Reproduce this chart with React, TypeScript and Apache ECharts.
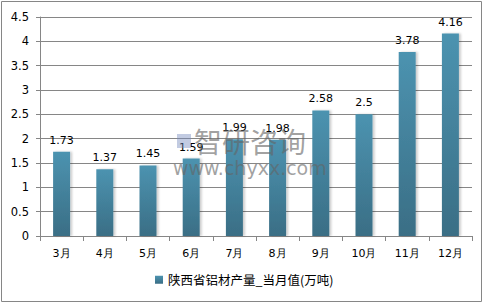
import React, { useEffect, useRef } from "react";
import * as echarts from "echarts";

const categories = ["3月", "4月", "5月", "6月", "7月", "8月", "9月", "10月", "11月", "12月"];
const values = [1.73, 1.37, 1.45, 1.59, 1.99, 1.98, 2.58, 2.5, 3.78, 4.16];
const seriesName = "陕西省铝材产量_当月值(万吨)";

export default function App() {
  const ref = useRef<HTMLDivElement>(null);
  useEffect(() => {
    document.body.style.margin = "0";
    const chart = echarts.init(ref.current!, null, { renderer: "svg" });
    const font = "DejaVu Sans, Verdana, sans-serif";
    chart.setOption({
      animation: false,
      backgroundColor: "#ffffff",
      grid: { left: 40, right: 13, top: 17, bottom: 71 },
      legend: {
        bottom: 16,
        left: 150,
        itemWidth: 8,
        itemHeight: 8,
        itemGap: 4,
        icon: "rect",
        textStyle: { fontSize: 12.5, color: "#000", fontFamily: "Noto Sans CJK SC" },
        data: [seriesName],
      },
      xAxis: {
        type: "category",
        data: categories,
        axisLine: { lineStyle: { color: "#868686" } },
        axisTick: { show: true, length: 5, lineStyle: { color: "#868686" } },
        axisLabel: { color: "#000", fontSize: 11, fontFamily: font, margin: 12 },
      },
      yAxis: {
        type: "value",
        min: 0,
        max: 4.5,
        interval: 0.5,
        axisLine: { show: true, lineStyle: { color: "#868686" } },
        axisTick: { show: true, length: 4, lineStyle: { color: "#868686" } },
        axisLabel: { color: "#000", fontSize: 11.5, fontFamily: font, margin: 11 },
        splitLine: { lineStyle: { color: "#868686" } },
      },
      series: [
        {
          name: seriesName,
          type: "bar",
          data: values,
          barWidth: 17,
          itemStyle: {
            color: new echarts.graphic.LinearGradient(0, 0, 0, 1, [
              { offset: 0, color: "#4c93b0" },
              { offset: 1, color: "#3a6e85" },
            ]),
            shadowColor: "rgba(0,0,0,0.2)",
            shadowOffsetX: 2,
            shadowBlur: 2,
          },
          label: {
            show: true,
            position: "top",
            distance: 6,
            color: "#000",
            fontSize: 11,
            fontFamily: font,
          },
        },
      ],
      graphic: [
        {
          type: "rect",
          shape: { x: 1.5, y: 1.5, width: 480, height: 300 },
          style: { fill: "none", stroke: "#868686", lineWidth: 1 },
          silent: true,
        },
        {
          type: "rect",
          shape: { x: 177, y: 134, width: 14, height: 14 },
          style: { fill: "rgba(120,140,190,0.45)" },
          silent: true,
          z: 100,
        },
        {
          type: "text",
          x: 194,
          y: 127,
          style: {
            text: "智研咨询",
            fontSize: 28,
            fontFamily: "Noto Sans CJK SC",
            fill: "rgba(100,100,100,0.6)",
          },
          silent: true,
          z: 100,
        },
        {
          type: "text",
          x: 173,
          y: 158,
          style: {
            text: "www.chyxx.com",
            fontSize: 19,
            fontFamily: "DejaVu Sans, sans-serif",
            fill: "rgba(100,100,100,0.6)",
          },
          silent: true,
          z: 100,
        },
      ],
    });
    return () => chart.dispose();
  }, []);
  return (
    <div
      ref={ref}
      style={{ position: "fixed", left: 0, top: 0, width: 485, height: 307 }}
    />
  );
}
